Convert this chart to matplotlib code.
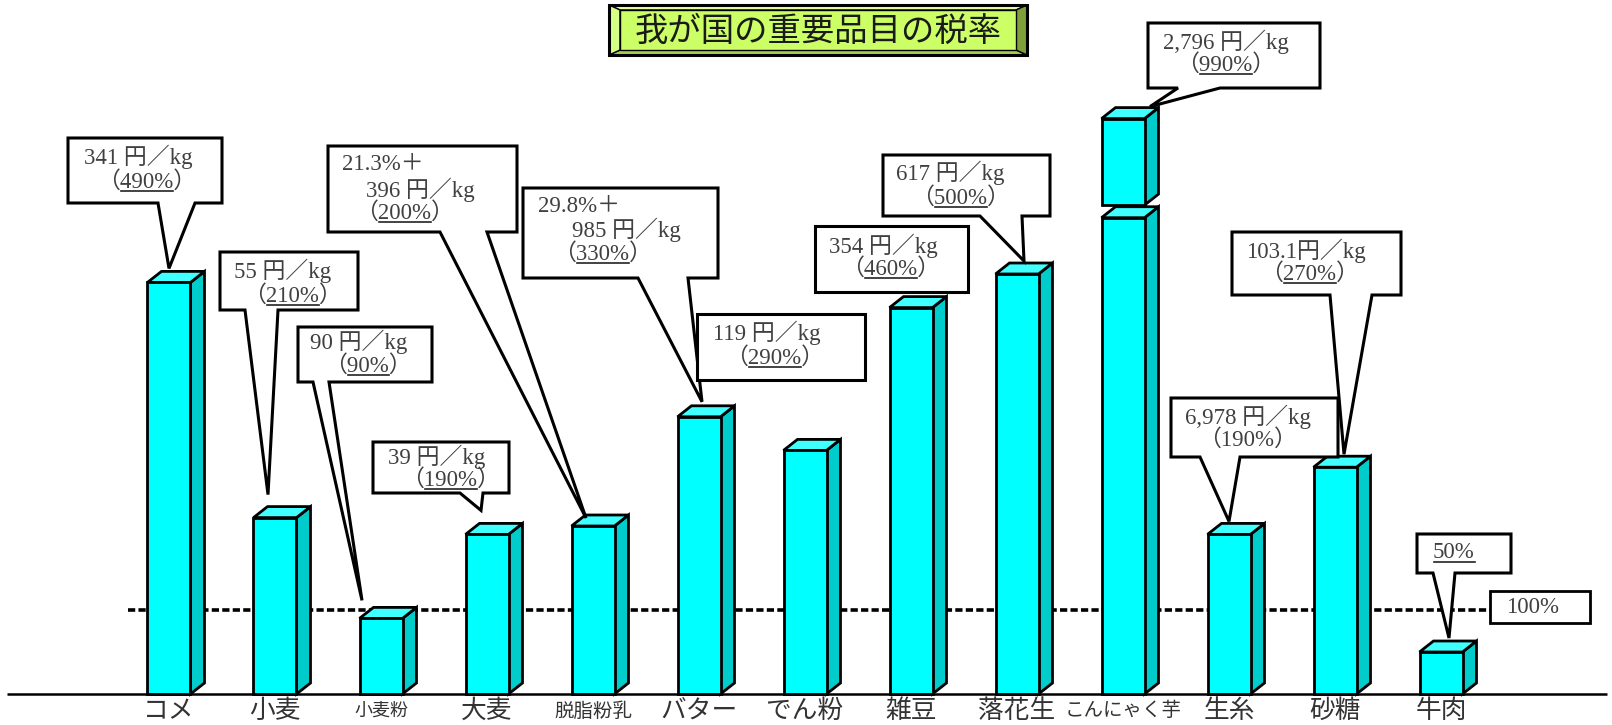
import matplotlib
matplotlib.use("Agg")
import matplotlib.pyplot as plt
from matplotlib.patches import Polygon
from matplotlib.transforms import Affine2D, blended_transform_factory

# ---------------- data ----------------
categories = ["コメ", "小麦", "小麦粉", "大麦", "脱脂粉乳", "バター", "でん粉",
              "雑豆", "落花生", "こんにゃく芋", "生糸", "砂糖", "牛肉"]
tariff_pct = [490, 210, 90, 190, 200, 330, 290, 460, 500, 990, 190, 270, 50]
specific_duty = ["341 円／kg", "55 円／kg", "90 円／kg", "39 円／kg", "396 円／kg",
                 "985 円／kg", "119 円／kg", "354 円／kg", "617 円／kg",
                 "2,796 円／kg", "6,978 円／kg", "103.1円／kg", ""]
ad_valorem_add = ["", "", "", "", "21.3%＋", "29.8%＋", "", "", "", "", "", "", ""]
reference_pct = 100
title = "我が国の重要品目の税率"

# broken-bar settings for very tall bars
BREAK_ABOVE = 700      # bars higher than this are drawn broken
BREAK_AT = 567         # where the lower segment stops
BREAK_GAP = 15         # visible gap between segments
BREAK_HIDDEN = 305     # amount of the bar left out by the break

# ---------------- layout ----------------
W_PX, H_PX = 1612, 725
PX_PER_CAT = 106.0
X0_PX = 169.0
PX_PER_PCT = 0.84
BASE_Y = 694.0

FRONT = "#00FFFF"
SIDE = "#00CCCC"
TOP = "#40FFFF"
TXT = "#404040"
LW = 2.0
SERIF = ["Liberation Serif", "Noto Sans CJK JP"]
GOTHIC = ["Noto Sans CJK JP", "DejaVu Sans"]
FS = 16.5

fig = plt.figure(figsize=(W_PX / 100, H_PX / 100), dpi=100)
fig.patch.set_facecolor("white")
ax = fig.add_axes([0, 0, 1, 1])
ax.set_axis_off()
ax.set_xlim(-X0_PX / PX_PER_CAT, (W_PX - X0_PX) / PX_PER_CAT)
ax.set_ylim(-(H_PX - BASE_Y) / PX_PER_PCT, BASE_Y / PX_PER_PCT)

# pixel frame with origin at the top-left corner
pix = Affine2D().scale(1 / W_PX, -1 / H_PX).translate(0, 1) + fig.transFigure
x_pix_y_data = blended_transform_factory(pix, ax.transData)
x_data_y_pix = blended_transform_factory(ax.transData, pix)


def data_to_pix(xd, yd):
    return pix.inverted().transform(ax.transData.transform((xd, yd)))


BW = 43 / PX_PER_CAT
DX = 14 / PX_PER_CAT
DY = 11 / PX_PER_PCT


def box3d(xc, y0, y1, z=3):
    xl, xr = xc - BW / 2, xc + BW / 2
    kw = dict(ec="black", lw=LW, joinstyle="miter", zorder=z)
    ax.add_patch(Polygon([(xr, y0), (xr + DX, y0 + DY), (xr + DX, y1 + DY), (xr, y1)],
                         fc=SIDE, **kw))
    ax.add_patch(Polygon([(xl, y1), (xr, y1), (xr + DX, y1 + DY), (xl + DX, y1 + DY)],
                         fc=TOP, **kw))
    ax.add_patch(Polygon([(xl, y0), (xr, y0), (xr, y1), (xl, y1)], fc=FRONT, **kw))


# baseline
ax.plot([7, 1607], [0, 0], color="black", lw=1.8, transform=x_pix_y_data, zorder=2,
        solid_capstyle="butt")

# 100 % reference line (behind the bars)
ax.plot([128, 1490], [reference_pct, reference_pct], color="black", lw=2.6,
        linestyle=(0, (2.0, 0.9)), transform=x_pix_y_data, zorder=1)

# bars
bar_tops = []
for i, v in enumerate(tariff_pct):
    if v > BREAK_ABOVE:
        box3d(i, 0, BREAK_AT)
        top = v - BREAK_HIDDEN
        box3d(i, BREAK_AT + BREAK_GAP, top, z=3.5)
    else:
        top = v
        box3d(i, 0, top)
    bar_tops.append(top)

# category labels
label_size = {"小麦粉": 13, "こんにゃく芋": 14, "脱脂粉乳": 14}
for i, c in enumerate(categories):
    ax.text(i, 711, c, transform=x_data_y_pix, ha="center", va="center",
            fontsize=label_size.get(c, 18.5), family=GOTHIC, color="#333333")

# callouts: box (x0, y0, x1, y1), pointer base on bottom edge, tip offset from bar top,
# starting points of the text lines
callouts = {
    0: dict(box=(68, 138, 222, 203), base=(158, 195), tip=(0, -14),
            lines=[(84, 157), (97, 182)]),
    1: dict(box=(220, 252, 358, 310), base=(245, 278), tip=(-7, -23),
            lines=[(234, 271), (243, 296)]),
    2: dict(box=(298, 327, 432, 382), base=(313, 329), tip=(-19, -18),
            lines=[(310, 342), (324, 366)]),
    3: dict(box=(373, 442, 509, 493), base=(460, 483), tip=(-6, -24),
            lines=[(388, 457), (401, 480)]),
    4: dict(box=(328, 146, 517, 232), base=(440, 487), tip=(-7, -8),
            lines=[(342, 165), (366, 190), (355, 213)]),
    5: dict(box=(523, 188, 718, 278), base=(638, 688), tip=(3, -15),
            lines=[(538, 207), (572, 230), (553, 254)]),
    6: dict(box=(697, 314, 865, 380), base=None, tip=None,
            lines=[(713, 333), (725, 358)]),
    7: dict(box=(815, 226, 968, 292), base=None, tip=None,
            lines=[(829, 246), (841, 269)]),
    8: dict(box=(883, 155, 1050, 216), base=(980, 1022), tip=(7, -13),
            lines=[(896, 173), (911, 198)]),
    9: dict(box=(1148, 23, 1320, 88), base=(1178, 1220), tip=(27, -12),
            lines=[(1163, 42), (1176, 65)]),
    10: dict(box=(1171, 398, 1338, 457), base=(1200, 1240), tip=(0, -13),
             lines=[(1185, 417), (1198, 440)]),
    11: dict(box=(1232, 232, 1401, 295), base=(1330, 1372), tip=(9, -13),
             lines=[(1246, 251), (1260, 274)]),
    12: dict(box=(1417, 534, 1511, 573), base=(1433, 1455), tip=(8, -14),
             lines=[(1433, 553)]),
}
plain_pct = {10}  # percentages shown without underline

renderer = fig.canvas.get_renderer()


def text_width(s):
    t = ax.text(0, 0, s, transform=pix, fontsize=FS, family=SERIF)
    w = t.get_window_extent(renderer).width
    t.remove()
    return w


def put_line(xp, yp, s, underline=None):
    t = ax.text(xp, yp, s, transform=pix, ha="left", va="center", fontsize=FS,
                family=SERIF, color=TXT, zorder=6)
    if underline:
        bb = t.get_window_extent(renderer)
        left_px = bb.x0
        k = s.index(underline)
        u0 = left_px + (text_width(s[:k]) if k else 0) + 1
        u1 = left_px + text_width(s[:k + len(underline)])
        ax.plot([u0, u1], [yp + 9.5, yp + 9.5], color="#222222", lw=1.2,
                transform=pix, zorder=6)


for i, spec in callouts.items():
    x0, y0, x1, y1 = spec["box"]
    if spec["base"] is not None:
        cx, ty = data_to_pix(i, bar_tops[i])
        tx, tyy = cx + spec["tip"][0], ty + spec["tip"][1]
        b0, b1 = spec["base"]
        pts = [(x0, y0), (x1, y0), (x1, y1), (b1, y1), (tx, tyy), (b0, y1), (x0, y1)]
    else:
        pts = [(x0, y0), (x1, y0), (x1, y1), (x0, y1)]
    ax.add_patch(Polygon(pts, closed=True, fc="white", ec="black", lw=2.2,
                         joinstyle="miter", transform=pix, zorder=5))

    pct = f"{tariff_pct[i]}%"
    texts = []
    if ad_valorem_add[i]:
        texts.append((ad_valorem_add[i], None))
    if specific_duty[i]:
        texts.append((specific_duty[i], None))
        texts.append((f"（{pct}）", None if i in plain_pct else pct))
    else:
        texts.append((pct, pct))
    for (s, u), (lx, ly) in zip(texts, spec["lines"]):
        put_line(lx, ly, s, u)

# reference line label
ax.add_patch(Polygon([(1490, 591), (1590, 591), (1590, 623), (1490, 623)],
                     fc="white", ec="black", lw=2.0, transform=pix, zorder=5))
ax.text(1506, 608, f"{reference_pct}%", transform=pix, ha="left", va="center",
        fontsize=FS, family=SERIF, color=TXT, zorder=6)

# bevelled title plate
ox0, oy0, ox1, oy1 = 609, 5, 1027, 55
ix0, iy0, ix1, iy1 = 620, 10, 1016, 50
bevels = [
    ([(ox0, oy0), (ox1, oy0), (ix1, iy0), (ix0, iy0)], "#E4FFA6"),
    ([(ox0, oy1), (ox1, oy1), (ix1, iy1), (ix0, iy1)], "#A6CC52"),
    ([(ox0, oy0), (ix0, iy0), (ix0, iy1), (ox0, oy1)], "#D6FF85"),
    ([(ox1, oy0), (ix1, iy0), (ix1, iy1), (ox1, oy1)], "#7F9F3A"),
]
for pts, col in bevels:
    ax.add_patch(Polygon(pts, fc=col, ec="black", lw=1.0, transform=pix, zorder=7))
ax.add_patch(Polygon([(ix0, iy0), (ix1, iy0), (ix1, iy1), (ix0, iy1)], fc="#CCFF66",
                     ec="black", lw=1.0, transform=pix, zorder=7))
ax.add_patch(Polygon([(ox0, oy0), (ox1, oy0), (ox1, oy1), (ox0, oy1)], fill=False,
                     ec="black", lw=2.2, transform=pix, zorder=8))
ax.text((ix0 + ix1) / 2, 31, title, transform=pix, ha="center", va="center",
        fontsize=24, family=GOTHIC, color="#1a1a1a", zorder=9)

fig.savefig("out.png", dpi=100, facecolor="white")
